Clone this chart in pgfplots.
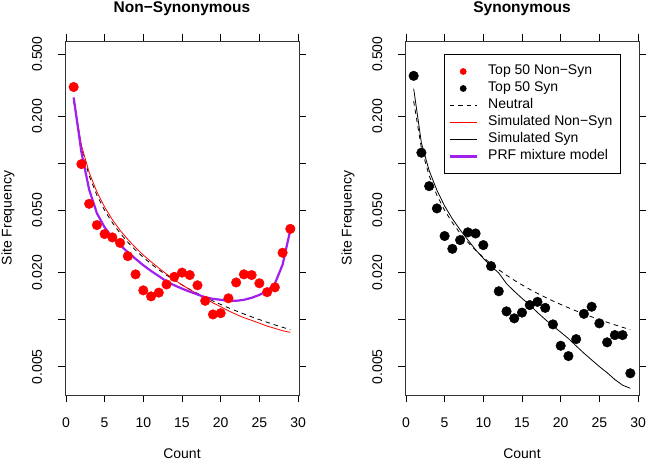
\documentclass[border=0pt]{standalone}
\usepackage{pgfplots}
\pgfplotsset{compat=1.18}
\usepackage{fontspec}
\setmainfont{Liberation Sans}
\definecolor{rpurple}{HTML}{A020F0}
\pgfplotsset{every axis title/.style={at={(axis description cs:0.5,1.0805)}, anchor=base, font=\fontsize{15.5}{18}\selectfont\bfseries, inner sep=0pt}}

% Top 50 Non-Syn (left panel points)
\pgfplotstableread{
x y
1 0.308
2 0.0989
3 0.0551
4 0.0403
5 0.0353
6 0.0336
7 0.0310
8 0.0255
9 0.0195
10 0.0154
11 0.0141
12 0.0149
13 0.0168
14 0.0188
15 0.0200
16 0.0193
17 0.0166
18 0.0132
19 0.0108
20 0.0110
21 0.0137
22 0.0173
23 0.0195
24 0.0193
25 0.0171
26 0.0150
27 0.0161
28 0.0268
29 0.0381
}\nonsyn

% Top 50 Syn (right panel points)
\pgfplotstableread{
x y
1 0.363
2 0.117
3 0.0715
4 0.0515
5 0.0343
6 0.0284
7 0.0323
8 0.0362
9 0.0356
10 0.0300
11 0.0220
12 0.0152
13 0.0113
14 0.0102
15 0.0111
16 0.0124
17 0.0130
18 0.0119
19 0.00933
20 0.00681
21 0.00585
22 0.00751
23 0.0109
24 0.0121
25 0.00947
26 0.00716
27 0.00797
28 0.00797
29 0.00454
}\syn

% Neutral expectation
\pgfplotstableread{
x y
1 0.25031
2 0.12516
3 0.08344
4 0.06258
5 0.05006
6 0.04172
7 0.03576
8 0.03129
9 0.02781
10 0.02503
11 0.02276
12 0.02086
13 0.01925
14 0.01788
15 0.01669
16 0.01564
17 0.01472
18 0.01391
19 0.01317
20 0.01252
21 0.01192
22 0.01138
23 0.01088
24 0.01043
25 0.01001
26 0.00963
27 0.00927
28 0.00894
29 0.00863
}\neutral

% Simulated Non-Syn
\pgfplotstableread{
x y
1 0.262
2 0.131
3 0.0876
4 0.0657
5 0.0526
6 0.0436
7 0.0373
8 0.0326
9 0.0289
10 0.0259
11 0.0235
12 0.0214
13 0.0196
14 0.0180
15 0.0167
16 0.0156
17 0.0146
18 0.0137
19 0.0128
20 0.0121
21 0.0114
22 0.0108
23 0.0103
24 0.0099
25 0.0095
26 0.0091
27 0.0088
28 0.0085
29 0.0083
}\simnonsyn

% Simulated Syn
\pgfplotstableread{
x y
1 0.301
2 0.135
3 0.090
4 0.0674
5 0.0534
6 0.0442
7 0.0376
8 0.0324
9 0.0280
10 0.0247
11 0.0220
12 0.0199
13 0.0170
14 0.0152
15 0.0137
16 0.0124
17 0.01112
18 0.01004
19 0.00911
20 0.00832
21 0.00757
22 0.00679
23 0.00611
24 0.00553
25 0.00501
26 0.00458
27 0.00414
28 0.00381
29 0.00364
}\simsyn

% PRF mixture model
\pgfplotstableread{
x y
1 0.264
2 0.118
3 0.068
4 0.048
5 0.039
6 0.0335
7 0.030
8 0.027
9 0.0245
10 0.0223
11 0.0205
12 0.0190
13 0.0176
14 0.0166
15 0.0158
16 0.0151
17 0.0145
18 0.0139
19 0.0136
20 0.0134
21 0.0132
22 0.0132
23 0.0134
24 0.0138
25 0.0144
26 0.0153
27 0.0170
28 0.0225
29 0.0375
}\prf

\begin{document}
\begin{tikzpicture}
\useasboundingbox (0,0) rectangle (646pt,460pt);

\begin{axis}[at={(65pt,65pt)}, anchor=south west,
    scale only axis, width=234pt, height=354pt,
    font=\fontsize{14}{16}\selectfont,
    xmin=-0.12, xmax=30.12,
    ymode=log, ymin=0.003297, ymax=0.6066,
    xtick={0,5,10,15,20,25,30},
    xticklabels={0,5,10,15,20,25,30},
    ytick={0.005,0.01,0.02,0.05,0.1,0.2,0.5},
    yticklabels={0.005,,0.020,0.050,,0.200,0.500},
    minor ytick={}, minor xtick={},
    tick align=outside, major tick length=7pt,
    tick style={black, line width=0.8pt},
    axis line style={black!80, line width=0.8pt},
    xticklabel style={anchor=base, inner sep=0pt, yshift=-25.5pt},
    yticklabel style={xshift=-16pt, rotate=90, anchor=base, inner sep=0pt},
    title={Non−Synonymous},
    xlabel={Count}, ylabel={Site Frequency},
    xlabel style={at={(axis description cs:0.5,-0.178)}, anchor=base, inner sep=0pt},
    ylabel style={at={(axis description cs:-0.2282,0.5)}, anchor=base, inner sep=0pt},
    clip=false]
\addplot[black, line width=0.8pt, dash pattern=on 4.5pt off 4pt] table[x=x,y=y] {\neutral};
\addplot[red, line width=0.8pt] table[x=x,y=y] {\simnonsyn};
\addplot[only marks, mark=*, mark size=4.8pt, mark options={draw=red, fill=red}] table[x=x,y=y] {\nonsyn};
\addplot[rpurple, line width=2.2pt] table[x=x,y=y] {\prf};
\end{axis}

\begin{axis}[at={(405pt,65pt)}, anchor=south west,
    scale only axis, width=234pt, height=354pt,
    font=\fontsize{14}{16}\selectfont,
    xmin=-0.12, xmax=30.12,
    ymode=log, ymin=0.003297, ymax=0.6066,
    xtick={0,5,10,15,20,25,30},
    xticklabels={0,5,10,15,20,25,30},
    ytick={0.005,0.01,0.02,0.05,0.1,0.2,0.5},
    yticklabels={0.005,,0.020,0.050,,0.200,0.500},
    minor ytick={}, minor xtick={},
    tick align=outside, major tick length=7pt,
    tick style={black, line width=0.8pt},
    axis line style={black!80, line width=0.8pt},
    xticklabel style={anchor=base, inner sep=0pt, yshift=-25.5pt},
    yticklabel style={xshift=-16pt, rotate=90, anchor=base, inner sep=0pt},
    title={Synonymous},
    xlabel={Count}, ylabel={Site Frequency},
    xlabel style={at={(axis description cs:0.5,-0.178)}, anchor=base, inner sep=0pt},
    ylabel style={at={(axis description cs:-0.2282,0.5)}, anchor=base, inner sep=0pt},
    clip=false,
    legend style={at={(axis description cs:0.168,0.963)}, anchor=north west,
    draw=black, line width=0.8pt, inner xsep=4pt, inner ysep=10.5pt,
    row sep=4pt, column sep=0pt,
    nodes={inner sep=0pt, text height=10pt, text depth=3pt},
    font=\fontsize{14}{16}\selectfont},
  legend cell align=left]
\addlegendimage{legend image code/.code={\path[draw=none,fill=none] (0pt,0pt) rectangle (38.4pt,0pt); \fill[red, draw=none] (13.4pt,0pt) circle (3.4pt);}}
\addlegendentry{Top 50 Non−Syn}
\addlegendimage{legend image code/.code={\path[draw=none,fill=none] (0pt,0pt) rectangle (38.4pt,0pt); \fill[black, draw=none] (13.4pt,0pt) circle (3.4pt);}}
\addlegendentry{Top 50 Syn}
\addlegendimage{legend image code/.code={\path[draw=none,fill=none] (0pt,0pt) rectangle (38.4pt,0pt); \draw[black, line width=0.8pt, dash pattern=on 4.5pt off 4pt] (0pt,0pt) -- (26.7pt,0pt);}}
\addlegendentry{Neutral}
\addlegendimage{legend image code/.code={\path[draw=none,fill=none] (0pt,0pt) rectangle (38.4pt,0pt); \draw[red, line width=0.8pt] (0pt,0pt) -- (26.7pt,0pt);}}
\addlegendentry{Simulated Non−Syn\hspace*{4.5pt}}
\addlegendimage{legend image code/.code={\path[draw=none,fill=none] (0pt,0pt) rectangle (38.4pt,0pt); \draw[black, line width=0.8pt] (0pt,0pt) -- (26.7pt,0pt);}}
\addlegendentry{Simulated Syn}
\addlegendimage{legend image code/.code={\path[draw=none,fill=none] (0pt,0pt) rectangle (38.4pt,0pt); \draw[rpurple, line width=2.2pt] (0pt,0pt) -- (26.7pt,0pt);}}
\addlegendentry{PRF mixture model}
\addplot[black, line width=0.8pt, dash pattern=on 4.5pt off 4pt, forget plot] table[x=x,y=y] {\neutral};
\addplot[black, line width=0.8pt, forget plot] table[x=x,y=y] {\simsyn};
\addplot[only marks, mark=*, mark size=4.8pt, mark options={draw=black, fill=black}, forget plot] table[x=x,y=y] {\syn};
\end{axis}
\end{tikzpicture}
\end{document}
